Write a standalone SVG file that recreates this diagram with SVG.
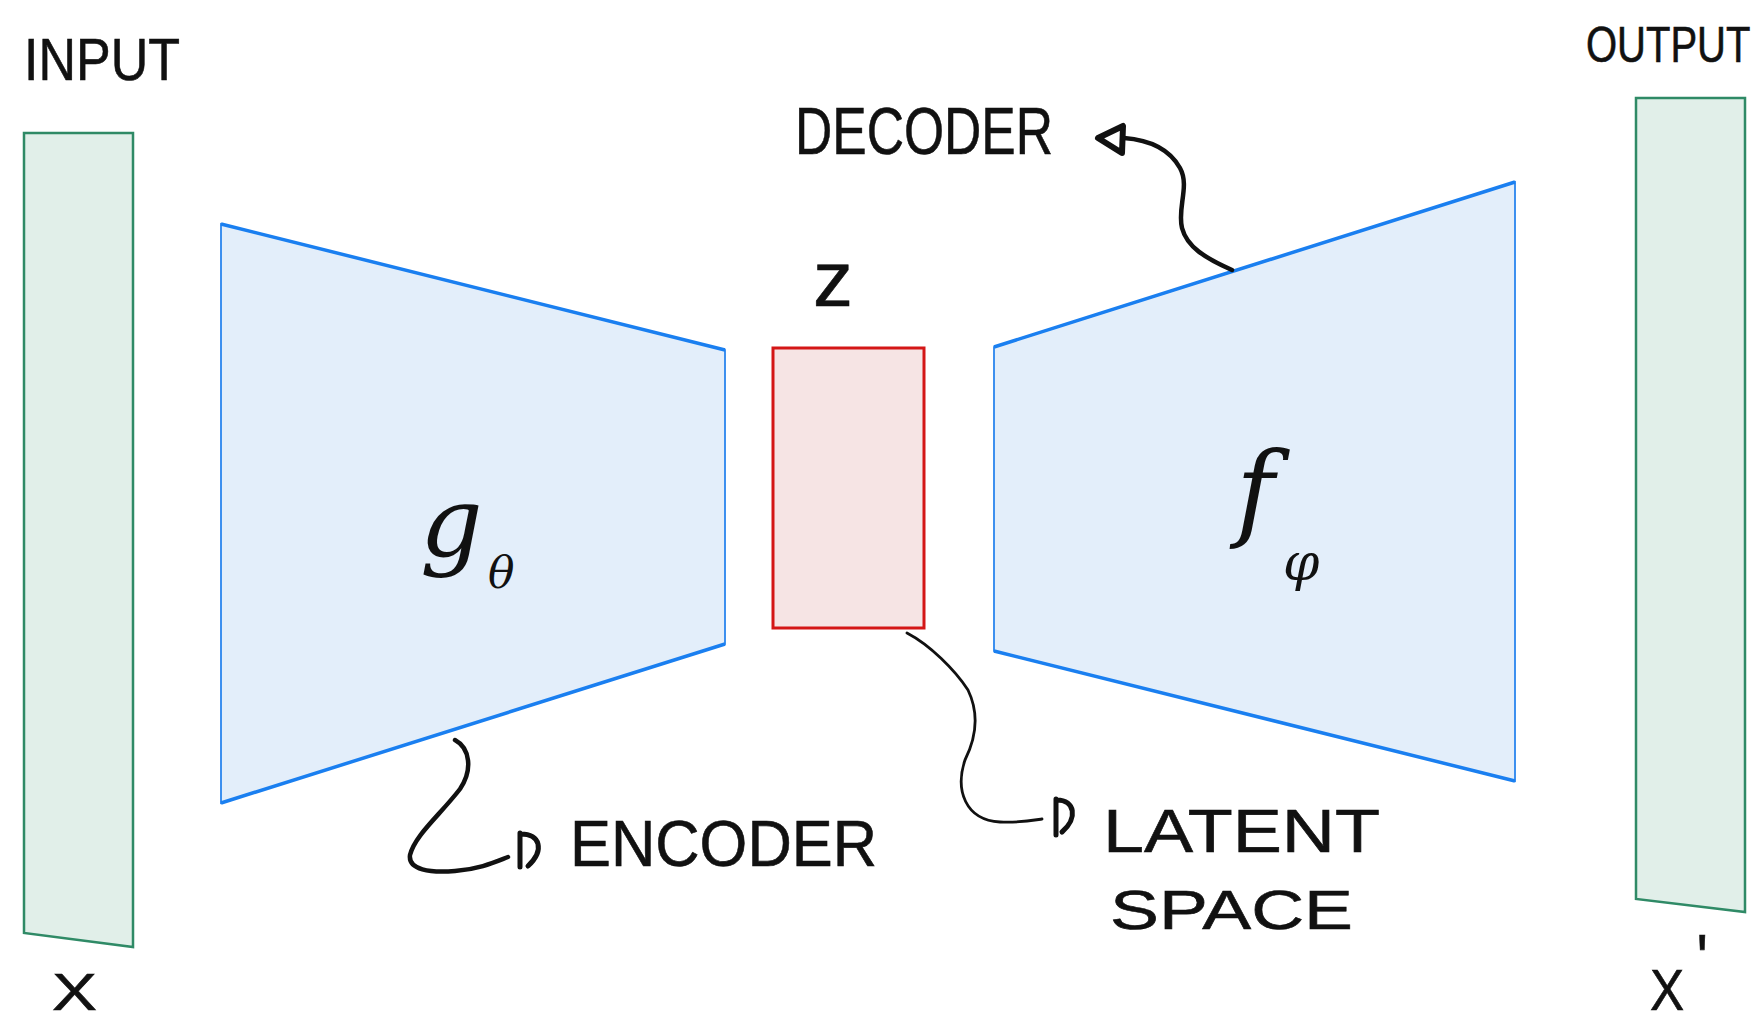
<svg xmlns="http://www.w3.org/2000/svg" width="1757" height="1021" viewBox="0 0 1757 1021">
<style>
.hand{font-family:"Liberation Sans","DejaVu Sans",sans-serif;fill:#111;stroke:#111;stroke-width:0.6;}
.math{font-family:"DejaVu Serif","Liberation Serif",serif;font-style:italic;fill:#111;}
.io{fill:#e1efe9;stroke:#2f8a66;stroke-width:2.5;}
.net{fill:#e3eefa;stroke:#2a85ee;stroke-width:1.8;}
.netedge{fill:none;stroke:#1a7ff0;stroke-width:3.5;}
.lat{fill:#f6e4e4;stroke:#d41616;stroke-width:3;}
.con{fill:none;stroke:#111;stroke-linecap:round;stroke-linejoin:round;}
</style>
<rect width="1757" height="1021" fill="#ffffff"/>
<g id="input">
<polygon class="io" points="24,133 133,133 133,947 24,933"/>
<text class="hand" x="24" y="80" font-size="60" textLength="156" lengthAdjust="spacingAndGlyphs">INPUT</text>
<text class="hand" x="52" y="1010" font-size="52" textLength="45" lengthAdjust="spacingAndGlyphs">X</text>
</g>
<g id="encoder">
<polygon class="net" points="221,224 725,350 725,644 221,803"/>
<path class="netedge" d="M221,224 L725,350 M725,644 L221,803"/>
<text class="math" x="420" y="556" font-size="98">g</text>
<text class="math" x="488" y="588" font-size="44">θ</text>
</g>
<g id="latent">
<rect class="lat" x="773" y="348" width="151" height="280"/>
<text class="hand" x="813" y="306" font-size="78" textLength="40" lengthAdjust="spacingAndGlyphs">z</text>
</g>
<g id="decoder">
<polygon class="net" points="994,347 1515,182 1515,781 994,651"/>
<path class="netedge" d="M994,347 L1515,182 M994,651 L1515,781"/>
<text class="math" x="1236" y="527" font-size="104">f</text>
<text class="math" x="1283" y="580" font-size="52">φ</text>
</g>
<g id="output">
<polygon class="io" points="1636,98 1745,98 1745,912 1636,899"/>
<text class="hand" transform="translate(1586,62) scale(0.8,1)" x="0" y="0" font-size="50">OUTPUT</text>
<text class="hand" x="1650" y="1010" font-size="58" textLength="58" lengthAdjust="spacingAndGlyphs">X<tspan font-size="68" dy="-28" dx="14">'</tspan></text>
</g>
<g id="labels">
<text class="hand" x="795" y="154" font-size="66" textLength="258" lengthAdjust="spacingAndGlyphs">DECODER</text>
<text class="hand" x="570" y="866" font-size="64" textLength="307" lengthAdjust="spacingAndGlyphs">ENCODER</text>
<text class="hand" x="1103" y="852" font-size="62" textLength="277" lengthAdjust="spacingAndGlyphs">LATENT</text>
<text class="hand" x="1110" y="929" font-size="56" textLength="243" lengthAdjust="spacingAndGlyphs">SPACE</text>
</g>
<g id="connectors">
<path class="con" stroke-width="4.5" d="M1232,270 C1205,258 1187,247 1182,228 C1177,208 1190,186 1180,168 C1170,150 1150,140 1124,138"/>
<path class="con" stroke-width="6" d="M1098,138 L1123,126 L1122,153 Z"/>
<path class="con" stroke-width="4.5" d="M455,740 C470,748 473,770 460,789 C440,815 415,835 410,855 C408,870 430,873 455,871 C480,869 495,862 508,857"/>
<path class="con" stroke-width="5" d="M520,833 L520,867 M521,834 C540,834 545,850 528,866"/>
<path class="con" stroke-width="2.8" d="M907,633 C930,645 955,670 968,690 C980,715 975,740 965,760 C955,790 965,820 1000,822 C1020,823 1035,820 1042,819"/>
<path class="con" stroke-width="5" d="M1056,799 L1056,835 M1057,800 C1075,800 1078,818 1062,832"/>
</g>
</svg>
